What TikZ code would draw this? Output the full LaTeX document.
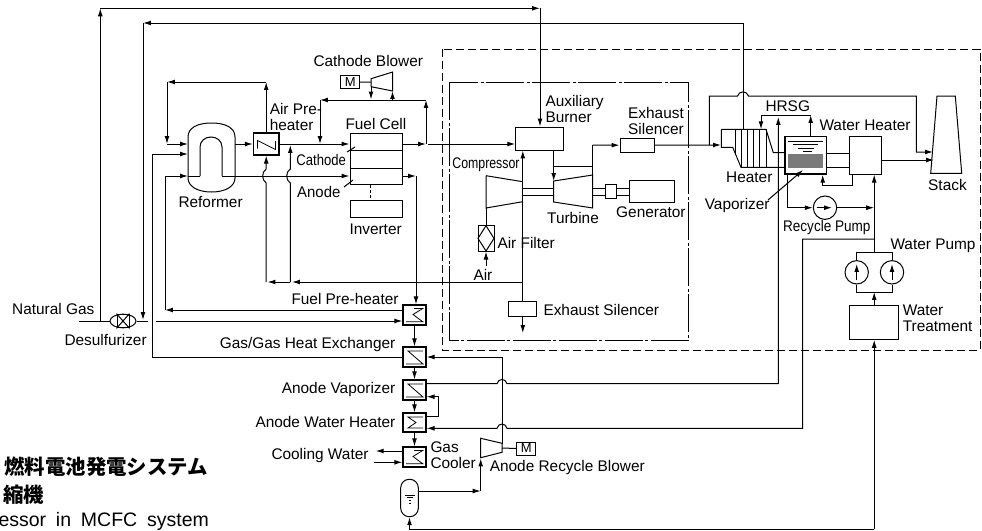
\documentclass[tikz,border=0pt]{standalone}
\usepackage{fontspec}
\setmainfont{Liberation Sans}
\newfontfamily\cjkfont{Noto Sans CJK JP}
\usepackage{tikz}
\usetikzlibrary{shapes.geometric,arrows.meta,positioning}

\begin{document}
\begin{tikzpicture}[x=1pt,y=-1pt,line width=1pt]
    \tikzstyle{unit} = [rectangle, draw=black, inner sep=0pt]
    \tikzstyle{hx} = [unit, line width=1.2pt, minimum width=23pt, minimum height=20pt]
    \tikzstyle{pump} = [circle, draw=black, inner sep=0pt, minimum size=23.4pt]
    \tikzstyle{motor} = [unit, minimum width=19pt, minimum height=13pt, font=\fontsize{13pt}{14pt}\selectfont]
    \tikzstyle{label} = [inner sep=0pt, anchor=west, align=left, font=\fontsize{15.4pt}{16pt}\selectfont]
    \tikzstyle{flow} = [-{Latex[length=2.8mm,width=1.7mm]}]
    \useasboundingbox (0,0) rectangle (982,530);

    % boxes around the plant
    \draw [dash pattern=on 8pt off 4pt] (442.7,49.3) rectangle (980,350.7);
    \draw [dash pattern=on 38pt off 2.5pt on 3pt off 2.5pt] (449.3,82) rectangle (688,340.7);

    % units
    \node (preheat) [hx, minimum width=25.5pt, minimum height=22pt] at (266.2,144) {};
    \node (cell) [unit, minimum width=52pt, minimum height=51.3pt] at (376,159.3) {};
    \node (inverter) [unit, minimum width=52pt, minimum height=17pt] at (376,208.5) {};
    \node (cblowerm) [motor] at (350.2,82.3) {M};
    \node (burner) [unit, minimum width=47.3pt, minimum height=23pt] at (539.4,138.5) {};
    \node (silencera) [unit, minimum width=34.3pt, minimum height=13.7pt] at (637.2,145.2) {};
    \node (silencerb) [unit, minimum width=27.7pt, minimum height=15pt] at (522.8,309.2) {};
    \node (generator) [unit, minimum width=45pt, minimum height=22pt] at (651.5,191) {};
    \node (coupling) [unit, minimum width=10.3pt, minimum height=14.4pt] at (610.9,191.5) {};
    \node (airfilter) [unit, minimum width=16pt, minimum height=25.3pt] at (486,238.4) {};
    \node (vaporizer) [unit, line width=1.2pt, minimum width=41.3pt, minimum height=37.7pt] at (805.7,155.2) {};
    \node (level) [rectangle, fill=black!52, inner sep=0pt, minimum width=34.7pt, minimum height=13.7pt] at (805.7,160.9) {};
    \node (wheater) [unit, minimum width=32pt, minimum height=37.7pt] at (865.7,155.2) {};
    \node (recycle) [pump] at (825,207.7) {};
    \node (wpumpa) [pump] at (856.7,272.3) {};
    \node (wpumpb) [pump] at (892,272.3) {};
    \node (treat) [unit, minimum width=49pt, minimum height=33.6pt] at (874.2,322.5) {};
    \node (fuelhx) [hx] at (414.5,315) {};
    \node (gashx) [hx] at (414.5,357) {};
    \node (anodevap) [hx] at (414.5,390) {};
    \node (anodewh) [hx, minimum height=19pt] at (414.5,422.5) {};
    \node (cooler) [hx] at (414.5,457) {};
    \node (ablowerm) [motor] at (526.4,448.5) {M};
    \node (separator) [unit, rounded corners=8.5pt, minimum width=17.6pt, minimum height=37.4pt] at (409.5,498) {};
    \node (desulf) [ellipse, draw=black, inner sep=0pt, minimum width=26pt, minimum height=13.7pt] at (123,321) {};
    \node (desulfcore) [unit, minimum width=12pt, minimum height=13.7pt] at (123,321) {};

    % junctions
    \coordinate (topleft) at (100.3,8.3);
    \coordinate (topright) at (540,8.3);
    \coordinate (secondleft) at (143,23);
    \coordinate (secondright) at (743,23);
    \coordinate (gasin) at (79,321);
    \coordinate (gasout) at (148,321);
    \coordinate (gasback) at (156,321);
    \coordinate (reformera) at (188,144);
    \coordinate (reformerb) at (188,154);
    \coordinate (reformerc) at (200,176);
    \coordinate (reformerd) at (222,176);
    \coordinate (reformere) at (235,144);
    \coordinate (loopa) at (266.2,82);
    \coordinate (loopb) at (167,82);
    \coordinate (loopc) at (167,144);
    \coordinate (airtap) at (320,144);
    \coordinate (airtop) at (320,100);
    \coordinate (airend) at (426,100);
    \coordinate (airout) at (426,144);
    \coordinate (airnext) at (428,144);
    \coordinate (cblowerl) at (371,82);
    \coordinate (cblowera) at (371,86);
    \coordinate (cblowerb) at (392.5,91);
    \coordinate (cellout) at (416,176);
    \coordinate (airline) at (522.7,282);
    \coordinate (airbend) at (290.3,282);
    \coordinate (airbendb) at (266.2,282);
    \coordinate (compa) at (486,208);
    \coordinate (airin) at (486,266);
    \coordinate (turbtop) at (553.7,181);
    \coordinate (turbtap) at (553.7,166.7);
    \coordinate (turbtapb) at (592.7,166.7);
    \coordinate (turbexit) at (592.7,175);
    \coordinate (turbup) at (592.7,145);
    \coordinate (heaterin) at (721,145);
    \coordinate (bypass) at (709.3,145);
    \coordinate (bypasstop) at (709.3,96);
    \coordinate (stackdown) at (916.3,96);
    \coordinate (stackupper) at (916.3,152);
    \coordinate (stacka) at (933,152);
    \coordinate (stackb) at (934,160);
    \coordinate (heatertop) at (743,129.3);
    \coordinate (hrsgleft) at (761,115);
    \coordinate (hrsgright) at (810.7,115);
    \coordinate (hrsgdrop) at (761,129.3);
    \coordinate (returnup) at (778.3,117);
    \coordinate (returncorner) at (778.3,383.7);
    \coordinate (feedturn) at (874.2,239);
    \coordinate (feedleft) at (802.7,239);
    \coordinate (feedcorner) at (802.7,428.3);
    \coordinate (vapdrain) at (787.7,207.7);
    \coordinate (drainjoin) at (874.2,207.7);
    \coordinate (backa) at (852,185.7);
    \coordinate (backb) at (822.7,185.7);
    \coordinate (pumptop) at (874.2,252.7);
    \coordinate (pumpbot) at (874.2,292);
    \coordinate (bottomright) at (874.2,529.3);
    \coordinate (bottomleft) at (409.5,529.3);
    \coordinate (sepexit) at (480.7,491);
    \coordinate (ablowera) at (480.7,458.5);
    \coordinate (ablowerb) at (502,443.5);
    \coordinate (ablowerc) at (502,448);
    \coordinate (gasreturn) at (502,357);
    \coordinate (wloop) at (438.3,416);
    \coordinate (wloopb) at (438.3,396.7);
    \coordinate (fuelcorner) at (165,310);
    \coordinate (fuelcornerb) at (165,176);
    \coordinate (gascorner) at (152,357);
    \coordinate (gascornerb) at (152,154);

    % shapes that are not boxes
    \draw (188,137) .. controls (188,128) and (197,123) .. (211.5,123) .. controls (226,123) and (235,128) .. (235,137)
        -- (235,178) .. controls (235,186) and (226,192) .. (211.5,192) .. controls (197,192) and (188,186) .. (188,178) -- cycle;
    \draw (reformerc) -- (200,147) .. controls (200,141) and (205,137) .. (211,137) .. controls (217,137) and (222,141) .. (222,147) -- (reformerd);
    \draw (371,78.7) -- (392.7,72) -- (392.7,91) -- (371,86.7) -- cycle;
    \draw (486,175.7) -- (522.7,181.7) (522.7,201.7) -- (486,208) -- (486,175.7);
    \draw (553.7,181) -- (592.7,175) -- (592.7,208) -- (553.7,202) -- cycle;
    \draw (480.7,438.3) -- (502,443.3) -- (502,452.3) -- (480.7,457.7) -- cycle;
    \draw (721.3,129.3) -- (766,129.3) -- (773.3,152.7) -- (vaporizer.west |- 0,152.7);
    \draw (721.3,129.3) -- (721.3,147.3) -- (732.7,147.3) -- (741,167.3) -- (vaporizer.west |- 0,167.3);
    \draw (735.7,129.3) -- (735.7,154.5) (741,129.3) -- (741,167.3) (747.3,129.3) -- (747.3,167.3) (753.3,129.3) -- (753.3,167.3) (759.3,129.3) -- (759.3,167.3) (766,129.3) -- (766,167.3);
    \draw (937,96) -- (955.3,96) -- (961.7,173.3) -- (930.7,173.3) -- cycle;
    \draw (478,238.4) -- (486,225.7) -- (494,238.4) -- (486,251) -- cycle;
    \draw (desulfcore.north west) -- (desulfcore.south east) (desulfcore.north east) -- (desulfcore.south west);
    \draw (788,141.7) -- (823,141.7) (793,144.7) -- (818,144.7) (798,148) -- (814,148) (803,151) -- (812,151);
    \draw (405,495) -- (414.5,495) (407,497.5) -- (412.5,497.5) (408.5,500) -- (411,500) (409,503) -- (410.5,503);

    % exchanger symbols
    \draw [line width=0.8pt] (257.5,148.5) -- (257.5,140.5) -- (275.5,149.5) -- (275.5,141);
    \draw [line width=0.8pt] (406,321.7) -- (422.7,321.7) -- (413,314.5) -- (422.7,308.5) -- (414,308.5);
    \draw [line width=0.8pt] (423,351) -- (408,351) -- (423,364) -- (406,364);
    \draw [line width=0.8pt] (423,384) -- (408,384) -- (423,397) -- (406,397);
    \draw [line width=0.8pt] (423,417) -- (408,417) -- (416,422.5) -- (408,428) -- (423,428);
    \draw [line width=0.8pt] (406,463.7) -- (422.7,463.7) -- (413,456.5) -- (422.7,450.5) -- (414,450.5);

    % natural gas and the long return lines
    \draw (gasin) -- (desulf.west);
    \draw (desulf.east) -- (gasout);
    \draw [flow] (100.3,321) -- (topleft);
    \draw [flow] (topleft) -- (topright);
    \draw [flow] (topright) -- (burner.north -| topright);
    \draw [flow] (heatertop) -- (secondright) -- (secondleft);
    \draw [flow] (secondleft) -- (143,320);
    \draw [flow] (gasback) -- (fuelhx.west |- gasback);
    \draw [flow] (fuelhx.west |- fuelcorner) -- (fuelcorner);
    \draw [flow] (fuelcorner) -- (fuelcornerb) -- (188,176);
    \draw (188,176) -- (reformerc);
    \draw [flow] (gashx.west) -- (gascorner) -- (gascornerb) -- (reformerb);

    % reformer, air and cell
    \draw [flow] (preheat.north) -- (loopa);
    \draw [flow] (loopa) -- (loopb);
    \draw [flow] (loopb) -- (loopc);
    \draw [flow] (loopc) -- (reformera);
    \draw [flow] (reformere) -- (preheat.west);
    \draw [flow] (preheat.east) -- (cell.west |- preheat.east);
    \draw [flow] (reformerd) -- (cell.west |- reformerd);
    \draw [flow] (airtop) -- (airtap);
    \draw [flow] (airend) -- (airtop);
    \draw [flow] (airout) -- (airend);
    \draw [flow] (cell.east |- airout) -- (airout);
    \draw [flow] (airnext) -- (burner.west |- airnext);
    \draw (cblowerm) -- (cblowerl);
    \draw [flow] (cblowera) -- (371,99.5);
    \draw [flow] (392.5,100) -- (cblowerb);
    \draw [dash pattern=on 3pt off 2pt] (370,185) -- (inverter.north -| 370,0);
    \draw (cell.west |- 0,150.7) -- (cell.east |- 0,150.7) (cell.west |- 0,168) -- (cell.east |- 0,168);
    \draw (347,152) -- (355,147) (344,187) -- (353,180);
    \draw [flow] (cell.east |- cellout) -- (cellout);
    \draw [flow] (cellout) -- (fuelhx.north -| cellout);

    % air line with the two crossings
    \draw [flow] (airline) -- (292,282);
    \draw [flow] (airbend) -- (267.5,282);
    \draw [flow] (airbendb) -- (266.2,183) .. controls (261.5,180) and (261.5,172) .. (266.2,169) -- (preheat.south);
    \draw [flow] (airbend) -- (290.3,183) .. controls (285.5,180) and (285.5,172) .. (290.3,169) -- (290.3,145);

    % gas turbine set
    \draw [flow] (silencerb.north) -- (burner.south -| silencerb);
    \draw [flow] (silencerb.south) -- (522.8,333);
    \draw (compa) -- (airfilter.north);
    \draw [flow] (airin) -- (airfilter.south);
    \draw (522.7,188.3) -- (553.7,188.3) (522.7,195) -- (553.7,195);
    \draw (592.7,188.3) -- (coupling.west |- 0,188.3) (592.7,195) -- (coupling.west |- 0,195);
    \draw (coupling.east |- 0,188.3) -- (generator.west |- 0,188.3) (coupling.east |- 0,195) -- (generator.west |- 0,195);
    \draw [flow] (burner.south -| turbtop) -- (turbtop);
    \draw (turbtap) -- (turbtapb);
    \draw (turbexit) -- (turbup);
    \draw [flow] (turbup) -- (silencera.west);
    \draw [flow] (silencera.east) -- (heaterin);

    % heat recovery side
    \draw [flow] (bypass) -- (bypasstop) -- (737.5,96) .. controls (739,90.5) and (747,90.5) .. (748.5,96) -- (stackdown) -- (stackupper) -- (stacka);
    \draw [flow] (wheater.east |- stackb) -- (stackb);
    \draw (vaporizer.east |- 0,153) -- (wheater.west |- 0,153) (vaporizer.east |- 0,167.3) -- (wheater.west |- 0,167.3);
    \draw [flow] (hrsgright) -- (hrsgleft) -- (hrsgdrop);
    \draw [flow] (vaporizer.north -| hrsgright) -- (hrsgright);
    \draw [flow] (wheater.south -| backa) -- (backa) -- (backb) -- (vaporizer.south -| backb);
    \draw [flow] (vaporizer.south -| vapdrain) -- (vapdrain) -- (recycle.west);
    \draw [flow] (recycle.east) -- (drainjoin);
    \draw [flow] (816.7,207.7) -- (832,207.7);
    \draw [flow] (pumptop) -- (wheater.south -| pumptop);
    \draw (wpumpa.north) -- (wpumpa.north |- pumptop) -- (wpumpb.north |- pumptop) -- (wpumpb.north);
    \draw (wpumpa.south) -- (wpumpa.south |- pumpbot) -- (wpumpb.south |- pumpbot) -- (wpumpb.south);
    \draw [flow] (856.7,280) -- (856.7,264);
    \draw [flow] (892,280) -- (892,264);
    \draw [flow] (treat.north) -- (pumpbot);
    \draw [flow] (bottomright) -- (treat.south);
    \draw [flow] (768,200) -- (803,170);
    \draw [flow] (anodevap.east |- returncorner) -- (497,383.7) .. controls (498.5,378) and (505.5,378) .. (507,383.7) -- (returncorner) -- (returnup);
    \draw [flow] (feedturn) -- (feedleft) -- (feedcorner) -- (507,428.3) .. controls (505.5,422.6) and (498.5,422.6) .. (497,428.3) -- (anodewh.east |- feedcorner);

    % anode train
    \draw [flow] (fuelhx.south) -- (gashx.north);
    \draw [flow] (gashx.south) -- (anodevap.north);
    \draw [flow] (anodevap.south) -- (anodewh.north);
    \draw [flow] (anodewh.south) -- (cooler.north);
    \draw [flow] (anodewh.east |- wloop) -- (wloop) -- (wloopb) -- (anodevap.east |- wloopb);
    \draw [flow] (cooler.west |- 0,451) -- (375.7,451);
    \draw [flow] (374.3,462.3) -- (cooler.west |- 0,462.3);
    \draw [flow] (bottomright) -- (bottomleft) -- (separator.south);
    \draw [flow] (separator.east |- sepexit) -- (sepexit);
    \draw [flow] (sepexit) -- (ablowera);
    \draw [flow] (ablowerb) -- (gasreturn) -- (gashx.east);
    \draw (ablowerc) -- (ablowerm.west);

    % labels
    \node (tcathodeb) [label] at (313,61) {Cathode Blower};
    \node (tairpre) [label] at (269.3,116.7) {Air Pre-\\heater};
    \node (treformer) [label] at (178,202.5) {Reformer};
    \node (tcathode) [label, xscale=.85, transform shape] at (296,160) {Cathode};
    \node (tanode) [label, xscale=.97, transform shape] at (296.7,191.5) {Anode};
    \node (tcell) [label] at (345,123.5) {Fuel Cell};
    \node (tinverter) [label] at (349,229) {Inverter};
    \node (tcompressor) [label, xscale=.8, transform shape] at (452,165) {Compressor};
    \node (tburner) [label] at (545,109) {Auxiliary\\Burner};
    \node (tsilencera) [label] at (627.7,120.5) {Exhaust\\Silencer};
    \node (tturbine) [label] at (546.7,217.5) {Turbine};
    \node (tgenerator) [label] at (615.7,212.5) {Generator};
    \node (tairfilter) [label] at (497,243) {Air Filter};
    \node (tair) [label] at (473,274.5) {Air};
    \node (tsilencerb) [label] at (543,310) {Exhaust Silencer};
    \node (thrsg) [label] at (765,105.7) {HRSG};
    \node (twheater) [label] at (819,125.7) {Water Heater};
    \node (theater) [label] at (725.7,177.7) {Heater};
    \node (tvaporizer) [label] at (704.3,205.7) {Vaporizer};
    \node (trecycle) [label, xscale=.88, transform shape] at (782.7,227.7) {Recycle Pump};
    \node (twpump) [label] at (890,245.7) {Water Pump};
    \node (tstack) [label] at (927.7,184.7) {Stack};
    \node (ttreat) [label] at (902.3,318.3) {Water\\Treatment};
    \node (tgas) [label] at (11.7,309.3) {Natural Gas};
    \node (tdesulf) [label] at (64,340) {Desulfurizer};
    \node (tfuelhx) [label] at (291,299) {Fuel Pre-heater};
    \node (tgashx) [label] at (219.3,345) {Gas/Gas Heat Exchanger};
    \node (tanodevap) [label] at (281.3,389.3) {Anode Vaporizer};
    \node (tanodewh) [label] at (255,421.7) {Anode Water Heater};
    \node (tcooling) [label] at (271,455.7) {Cooling Water};
    \node (tcooler) [label] at (430,455) {Gas\\Cooler};
    \node (tablower) [label] at (489.3,467.7) {Anode Recycle Blower};

    % caption, cut off at the left edge
    \node (captionja) [label, font=\cjkfont\bfseries\fontsize{20.4pt}{22pt}\selectfont] at (4,467) {燃料電池発電システム};
    \node (captionjb) [label, font=\cjkfont\bfseries\fontsize{20.4pt}{22pt}\selectfont] at (2.7,495) {縮機};
    \node (captionen) [label, font=\fontsize{19.5pt}{20pt}\selectfont] at (-2,521.7) {essor\hspace{4.4pt} in\hspace{4.4pt} MCFC\hspace{4.4pt} system};
\end{tikzpicture}
\end{document}
